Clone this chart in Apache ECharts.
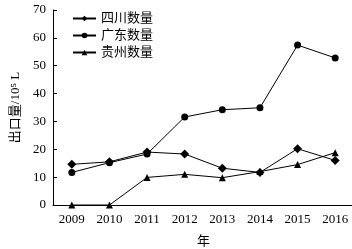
<!DOCTYPE html>
<html><head><meta charset="utf-8">
<script src="https://cdn.jsdelivr.net/npm/echarts@6/dist/echarts.min.js"></script>
<style>html,body{margin:0;padding:0;background:#fff}#c{width:352px;height:249px}</style>
</head><body><div id="c"></div>
<script>
const years = ['2009','2010','2011','2012','2013','2014','2015','2016'];
const sichuan = [14.6, 15.5, 19.0, 18.3, 13.2, 11.7, 20.2, 16.0];
const guangdong = [11.7, 15.2, 18.3, 31.6, 34.2, 34.9, 57.4, 52.8];
const guizhou = [0, 0, 9.9, 11.0, 9.8, 12.0, 14.5, 18.8];
const yTicks = {min: 0, max: 70, interval: 10};
const names = ['四川数量', '广东数量', '贵州数量'];

const font = '"Liberation Serif", "Times New Roman", "Noto Sans CJK SC", serif';
const chart = echarts.init(document.getElementById('c'), null, {renderer: 'canvas'});
function ser(name, data, symbol, size) {
  return {name, type: 'line', data, symbol, symbolSize: size,
    lineStyle: {color: '#000', width: 1}, itemStyle: {color: '#000'}, animation: false};
}
chart.setOption({
  animation: false,
  textStyle: {fontFamily: font, color: '#000'},
  grid: {left: 53, right: -2, top: 10, bottom: 44, containLabel: false, outerBoundsMode: 'none'},
  legend: {
    orient: 'vertical', left: 67, top: 7, itemGap: 4, itemWidth: 23, itemHeight: 7,
    textStyle: {fontFamily: font, fontSize: 13, color: '#000'},
    data: names
  },
  xAxis: {
    type: 'category', data: years, boundaryGap: true,
    name: '年', nameLocation: 'middle', nameGap: 30,
    nameTextStyle: {fontFamily: font, fontSize: 13, color: '#000'},
    axisLine: {lineStyle: {color: '#000', width: 1}},
    axisTick: {inside: true, alignWithLabel: true, length: 4, lineStyle: {color: '#000'}},
    axisLabel: {fontFamily: font, fontSize: 13, color: '#000', margin: 8}
  },
  yAxis: {
    type: 'value', min: yTicks.min, max: yTicks.max, interval: yTicks.interval,
    name: '出口量/10⁵ L', nameLocation: 'middle', nameGap: 30,
    nameTextStyle: {fontFamily: font, fontSize: 13, color: '#000'},
    axisLine: {show: true, lineStyle: {color: '#000', width: 1}},
    axisTick: {show: true, inside: true, length: 4, lineStyle: {color: '#000'}},
    axisLabel: {fontFamily: font, fontSize: 13, color: '#000', margin: 7},
    splitLine: {show: false}
  },
  series: [
    ser(names[0], sichuan, 'diamond', 9),
    ser(names[1], guangdong, 'circle', 7),
    ser(names[2], guizhou, 'triangle', 7)
  ]
});
</script></body></html>
